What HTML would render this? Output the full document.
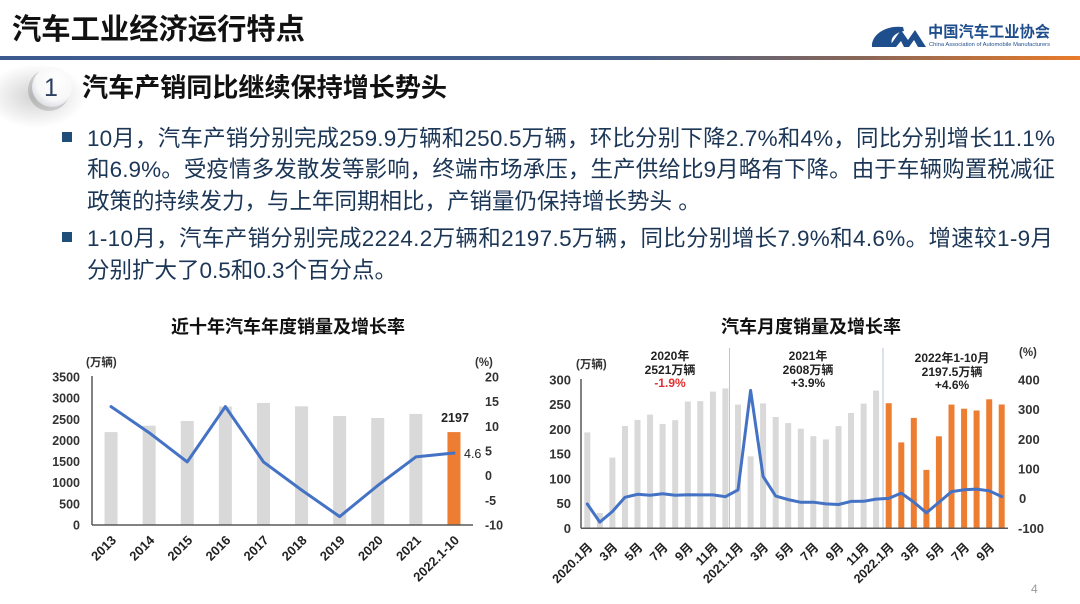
<!DOCTYPE html>
<html><head><meta charset="utf-8"><style>
html,body{margin:0;padding:0;background:#fff;}
body{width:1080px;height:604px;overflow:hidden;position:relative;}
svg{position:absolute;left:0;top:0;}
text{font-family:"Liberation Sans","Noto Sans CJK SC",sans-serif;}
</style></head><body>
<svg width="1080" height="604" viewBox="0 0 1080 604" xmlns="http://www.w3.org/2000/svg">
<defs>
<linearGradient id="hl" x1="0" x2="1" y1="0" y2="0">
<stop offset="0" stop-color="#3b5a8e"/><stop offset="0.58" stop-color="#45608c"/><stop offset="0.8" stop-color="#8a6656"/><stop offset="1" stop-color="#e97b2a"/>
</linearGradient>
<radialGradient id="sh" cx="0.5" cy="0.5" r="0.5">
<stop offset="0" stop-color="#000" stop-opacity="0.18"/><stop offset="1" stop-color="#000" stop-opacity="0"/>
</radialGradient>
<radialGradient id="cg" cx="0.6" cy="0.35" r="0.7">
<stop offset="0" stop-color="#ffffff"/><stop offset="0.7" stop-color="#f7f7f8"/><stop offset="1" stop-color="#d8dbe0"/>
</radialGradient>
</defs>

<!-- Header -->
<text x="12" y="39" font-size="29" font-weight="bold" fill="#111" textLength="293" lengthAdjust="spacingAndGlyphs">汽车工业经济运行特点</text>
<rect x="0" y="56" width="1080" height="4" fill="url(#hl)"/>
<!-- logo -->
<path d="M903 27 C885 25 871 35 872 47 L893 47 C889 40 893 33 904 31 Z" fill="#1f4e8c"/>
<path d="M889 47 L901 30 L908 40 L915 30 L926 47 L918 47 L914 40 L909 47 L904 47 L901 41 L896 47 Z" fill="#1f4e8c"/>
<text x="928" y="37" font-size="15.5" font-weight="bold" fill="#1f4e8c" textLength="122" lengthAdjust="spacingAndGlyphs">中国汽车工业协会</text>
<text x="929" y="46" font-size="5.5" fill="#1f4e8c" textLength="121" lengthAdjust="spacingAndGlyphs">China Association of Automobile Manufacturers</text>

<!-- Section heading -->
<ellipse cx="36" cy="96" rx="50" ry="32" fill="url(#sh)"/>
<circle cx="49" cy="90" r="21" fill="#000" opacity="0.14"/>
<circle cx="52" cy="87" r="20" fill="url(#cg)"/>
<text x="51" y="96" font-size="25" fill="#2d4060" text-anchor="middle">1</text>
<text x="82" y="96.5" font-size="26" font-weight="bold" fill="#111" textLength="365" lengthAdjust="spacingAndGlyphs">汽车产销同比继续保持增长势头</text>

<!-- Body -->
<rect x="62" y="132" width="10" height="10" fill="#1f4e79"/>
<rect x="62" y="232" width="10" height="10" fill="#1f4e79"/>
<g font-size="22.5" fill="#1c3656">
<text x="87" y="146" textLength="968" lengthAdjust="spacing">10月，汽车产销分别完成259.9万辆和250.5万辆，环比分别下降2.7%和4%，同比分别增长11.1%</text>
<text x="87" y="177" textLength="968" lengthAdjust="spacing">和6.9%。受疫情多发散发等影响，终端市场承压，生产供给比9月略有下降。由于车辆购置税减征</text>
<text x="87" y="209">政策的持续发力，与上年同期相比，产销量仍保持增长势头 。</text>
<text x="87" y="246" textLength="966" lengthAdjust="spacing">1-10月，汽车产销分别完成2224.2万辆和2197.5万辆，同比分别增长7.9%和4.6%。增速较1-9月</text>
<text x="87" y="278">分别扩大了0.5和0.3个百分点。</text>
</g>

<!-- Left chart -->
<text x="288" y="333" font-size="18" font-weight="bold" fill="#111" text-anchor="middle">近十年汽车年度销量及增长率</text>
<text x="86" y="366" font-size="11.5" font-weight="bold" fill="#333">(万辆)</text>
<text x="475" y="366" font-size="11.5" font-weight="bold" fill="#333">(%)</text>
<g fill="#d9d9d9">
<rect x="104.55" y="432.1" width="13" height="92.9"/>
<rect x="142.65" y="425.7" width="13" height="99.3"/>
<rect x="180.75" y="421.0" width="13" height="104.0"/>
<rect x="218.85" y="406.5" width="13" height="118.5"/>
<rect x="256.95" y="402.9" width="13" height="122.1"/>
<rect x="295.05" y="406.3" width="13" height="118.7"/>
<rect x="333.15" y="416.0" width="13" height="109.0"/>
<rect x="371.25" y="418.0" width="13" height="107.0"/>
<rect x="409.35" y="413.9" width="13" height="111.1"/>
</g>
<rect x="447.45" y="432.1" width="13" height="92.9" fill="#ed7d31"/>
<line x1="92" y1="376" x2="92" y2="525" stroke="#595959" stroke-width="1.5"/>
<line x1="92" y1="525" x2="473" y2="525" stroke="#595959" stroke-width="1.5"/>
<polyline points="111.05,406.6 149.15,432.7 187.25,461.9 225.35,406.6 263.45,461.9 301.55,490.0 339.65,516.6 377.75,485.5 415.85,456.9 453.95,453.0" fill="none" stroke="#4472c4" stroke-width="3" stroke-linejoin="round" stroke-linecap="round"/>
<text x="455" y="422" font-size="12.5" font-weight="bold" fill="#222" text-anchor="middle">2197</text>
<text x="464" y="458" font-size="12.5" fill="#222">4.6</text>
<g font-size="12.5" font-weight="bold" fill="#333" text-anchor="end">
<text x="80" y="381.5">3500</text><text x="80" y="402.6">3000</text><text x="80" y="423.8">2500</text><text x="80" y="444.9">2000</text>
<text x="80" y="466.1">1500</text><text x="80" y="487.2">1000</text><text x="80" y="508.4">500</text><text x="80" y="529.5">0</text>
</g>
<g font-size="12.5" font-weight="bold" fill="#333">
<text x="485" y="381.5">20</text><text x="485" y="406.2">15</text><text x="485" y="430.8">10</text><text x="485" y="455.5">5</text>
<text x="485" y="480.2">0</text><text x="485" y="504.8">-5</text><text x="485" y="529.5">-10</text>
</g>
<g font-size="13" font-weight="bold" fill="#222" text-anchor="end">
<text transform="translate(117,541) rotate(-45)">2013</text>
<text transform="translate(155.2,541) rotate(-45)">2014</text>
<text transform="translate(193.3,541) rotate(-45)">2015</text>
<text transform="translate(231.4,541) rotate(-45)">2016</text>
<text transform="translate(269.5,541) rotate(-45)">2017</text>
<text transform="translate(307.6,541) rotate(-45)">2018</text>
<text transform="translate(345.7,541) rotate(-45)">2019</text>
<text transform="translate(383.8,541) rotate(-45)">2020</text>
<text transform="translate(421.9,541) rotate(-45)">2021</text>
<text transform="translate(460,541) rotate(-45)">2022.1-10</text>
</g>

<!-- Right chart -->
<text x="811" y="333" font-size="18" font-weight="bold" fill="#111" text-anchor="middle">汽车月度销量及增长率</text>
<text x="576" y="368" font-size="11.5" font-weight="bold" fill="#333">(万辆)</text>
<text x="1019" y="356" font-size="11.5" font-weight="bold" fill="#333">(%)</text>
<line x1="729.5" y1="348" x2="729.5" y2="528" stroke="#b8c6da" stroke-width="1"/>
<line x1="883" y1="348" x2="883" y2="528" stroke="#b8c6da" stroke-width="1"/>
<g font-size="12" font-weight="bold" fill="#222" text-anchor="middle">
<text x="670" y="360">2020年</text><text x="670" y="374">2521万辆</text>
<text x="670" y="387" fill="#e03030">-1.9%</text>
<text x="808" y="360">2021年</text><text x="808" y="374">2608万辆</text><text x="808" y="387">+3.9%</text>
<text x="952" y="362">2022年1-10月</text><text x="952" y="376">2197.5万辆</text><text x="952" y="389">+4.6%</text>
</g>
<g fill="#d9d9d9">
<rect x="584.3" y="432.4" width="6" height="95.9"/>
<rect x="596.8" y="513.0" width="6" height="15.3"/>
<rect x="609.4" y="457.6" width="6" height="70.7"/>
<rect x="622.0" y="426.0" width="6" height="102.3"/>
<rect x="634.5" y="419.9" width="6" height="108.4"/>
<rect x="647.1" y="414.6" width="6" height="113.7"/>
<rect x="659.6" y="423.9" width="6" height="104.4"/>
<rect x="672.2" y="420.2" width="6" height="108.1"/>
<rect x="684.8" y="401.5" width="6" height="126.8"/>
<rect x="697.3" y="401.1" width="6" height="127.2"/>
<rect x="709.9" y="391.6" width="6" height="136.7"/>
<rect x="722.4" y="388.4" width="6" height="139.9"/>
<rect x="735.0" y="404.6" width="6" height="123.7"/>
<rect x="747.6" y="456.4" width="6" height="71.9"/>
<rect x="760.1" y="403.4" width="6" height="124.9"/>
<rect x="772.7" y="417.0" width="6" height="111.3"/>
<rect x="785.2" y="423.1" width="6" height="105.2"/>
<rect x="797.8" y="428.7" width="6" height="99.6"/>
<rect x="810.3" y="436.2" width="6" height="92.1"/>
<rect x="822.9" y="439.4" width="6" height="88.9"/>
<rect x="835.5" y="426.1" width="6" height="102.2"/>
<rect x="848.0" y="413.0" width="6" height="115.3"/>
<rect x="860.6" y="403.6" width="6" height="124.7"/>
<rect x="873.1" y="390.6" width="6" height="137.7"/>
</g>
<g fill="#ed7d31">
<rect x="885.7" y="403.2" width="6" height="125.1"/>
<rect x="898.3" y="442.4" width="6" height="85.9"/>
<rect x="910.8" y="417.9" width="6" height="110.4"/>
<rect x="923.4" y="469.9" width="6" height="58.4"/>
<rect x="935.9" y="436.3" width="6" height="92.0"/>
<rect x="948.5" y="404.6" width="6" height="123.7"/>
<rect x="961.1" y="408.7" width="6" height="119.6"/>
<rect x="973.6" y="410.5" width="6" height="117.8"/>
<rect x="986.2" y="399.3" width="6" height="129.0"/>
<rect x="998.7" y="404.5" width="6" height="123.8"/>
</g>
<line x1="581" y1="379" x2="581" y2="528.3" stroke="#595959" stroke-width="1.5"/>
<line x1="581" y1="528.3" x2="1008" y2="528.3" stroke="#595959" stroke-width="1.5"/>
<polyline points="587.3,504.0 599.8,522.1 612.4,511.5 625.0,497.3 637.5,494.3 650.1,495.2 662.6,493.8 675.2,495.2 687.8,494.8 700.3,494.9 712.9,494.9 725.4,496.7 738.0,489.9 750.6,390.4 763.1,476.4 775.7,496.1 788.2,499.6 800.8,502.3 813.3,502.2 825.9,503.9 838.5,504.5 851.0,501.4 863.6,501.3 876.1,499.1 888.7,498.4 901.3,493.1 913.8,502.1 926.4,512.8 938.9,502.4 951.5,491.6 964.1,489.8 976.6,489.1 989.2,490.8 1001.7,496.6" fill="none" stroke="#4472c4" stroke-width="3" stroke-linejoin="round" stroke-linecap="round"/>
<g font-size="13" font-weight="bold" fill="#333" text-anchor="end">
<text x="571" y="384.5">300</text><text x="571" y="409.2">250</text><text x="571" y="433.9">200</text><text x="571" y="458.7">150</text>
<text x="571" y="483.4">100</text><text x="571" y="508.1">50</text><text x="571" y="532.8">0</text>
</g>
<g font-size="13" font-weight="bold" fill="#333">
<text x="1018" y="384.5">400</text><text x="1018" y="414.2">300</text><text x="1018" y="443.8">200</text><text x="1018" y="473.5">100</text>
<text x="1019" y="503.1">0</text><text x="1018" y="532.8">-100</text>
</g>
<g font-size="12.5" font-weight="bold" fill="#222" text-anchor="end">
<text transform="translate(593.3,548) rotate(-45)">2020.1月</text>
<text transform="translate(618.4,548) rotate(-45)">3月</text>
<text transform="translate(643.5,548) rotate(-45)">5月</text>
<text transform="translate(668.6,548) rotate(-45)">7月</text>
<text transform="translate(693.8,548) rotate(-45)">9月</text>
<text transform="translate(718.9,548) rotate(-45)">11月</text>
<text transform="translate(744,548) rotate(-45)">2021.1月</text>
<text transform="translate(769.1,548) rotate(-45)">3月</text>
<text transform="translate(794.2,548) rotate(-45)">5月</text>
<text transform="translate(819.3,548) rotate(-45)">7月</text>
<text transform="translate(844.5,548) rotate(-45)">9月</text>
<text transform="translate(869.6,548) rotate(-45)">11月</text>
<text transform="translate(894.7,548) rotate(-45)">2022.1月</text>
<text transform="translate(919.8,548) rotate(-45)">3月</text>
<text transform="translate(944.9,548) rotate(-45)">5月</text>
<text transform="translate(970.1,548) rotate(-45)">7月</text>
<text transform="translate(995.2,548) rotate(-45)">9月</text>
</g>
<text x="1031" y="593" font-size="12" fill="#999">4</text>
</svg>
</body></html>
